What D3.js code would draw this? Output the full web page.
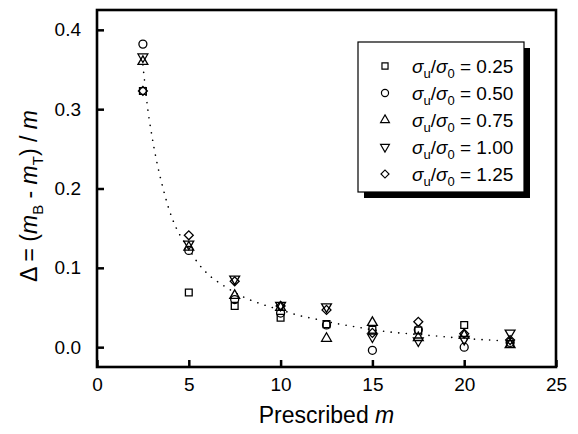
<!DOCTYPE html>
<html><head><meta charset="utf-8">
<script src="https://cdn.jsdelivr.net/npm/d3@7"></script>
<style>
html,body{margin:0;padding:0;background:#fff;}
svg{display:block;font-family:"Liberation Sans",Arial,sans-serif;}
</style></head>
<body><svg id="c" width="578" height="434"></svg>
<script>
// ---- data ----
const mValues = [2.5, 5, 7.5, 10, 12.5, 15, 17.5, 20, 22.5];
const ratioLabels = ["0.25", "0.50", "0.75", "1.00", "1.25"];
const s025 = [0.323, 0.069, 0.052, 0.037, 0.029, 0.022, 0.021, 0.028, 0.004];
const s050 = [0.382, 0.122, 0.060, 0.043, 0.028, -0.004, 0.022, 0.000, 0.006];
const s075 = [0.360, 0.126, 0.065, 0.050, 0.011, 0.031, 0.012, 0.015, 0.003];
const s100 = [0.366, 0.130, 0.086, 0.053, 0.051, 0.013, 0.008, 0.010, 0.018];
const s125 = [0.323, 0.141, 0.083, 0.052, 0.047, 0.018, 0.032, 0.017, 0.009];
// dotted fitted curve
const curveM = [2.5, 2.7, 3.0, 3.2, 3.6, 4.1, 4.5, 5, 5.5, 6, 7, 8, 9, 10, 11, 12, 13, 14, 15, 16, 17, 18, 19, 20, 21, 22.2];
const curveD = [0.356, 0.312, 0.265, 0.240, 0.200, 0.162, 0.142, 0.124, 0.106, 0.093, 0.076, 0.063, 0.054, 0.047, 0.040, 0.035, 0.030, 0.026, 0.022, 0.019, 0.017, 0.015, 0.013, 0.011, 0.0095, 0.008];
const xTicks = [0, 5, 10, 15, 20, 25];
const yTicks = [0.0, 0.1, 0.2, 0.3, 0.4];

const series = [s025, s050, s075, s100, s125];

const svg = d3.select("#c");
const L = 97, R = 556, T = 10, B = 367;
const x = d3.scaleLinear().domain([0, 25]).range([L, R]);
const y = d3.scaleLinear().domain([-0.025, 0.425]).range([B, T]);

// symbols
const symDefs = [
  {type: d3.symbolSquare, size: 46, rot: 0},
  {type: d3.symbolCircle, size: 50, rot: 0},
  {type: d3.symbolTriangle, size: 42, rot: 0},
  {type: d3.symbolTriangle, size: 42, rot: 180},
  {type: d3.symbolSquare, size: 40, rot: 45}
];

// curve
svg.append("path")
  .datum(curveM.map((m, i) => [m, curveD[i]]))
  .attr("fill", "none").attr("stroke", "#000")
  .attr("stroke-width", 1.6).attr("stroke-linecap", "round")
  .attr("stroke-dasharray", "0.1,7.5")
  .attr("d", d3.line().x(d => x(d[0])).y(d => y(d[1])).curve(d3.curveMonotoneX));

// points
series.forEach((s, si) => {
  const def = symDefs[si];
  const gen = d3.symbol().type(def.type).size(def.size);
  svg.append("g").selectAll("path").data(s).join("path")
    .attr("d", gen)
    .attr("transform", (d, i) => `translate(${x(mValues[i])},${y(d)}) rotate(${def.rot})`)
    .attr("fill", "none").attr("stroke", "#000").attr("stroke-width", 1.3);
});

// axes
const xAxis = d3.axisBottom(x).tickValues(xTicks).tickFormat(d3.format("d"))
  .tickSizeInner(-7).tickSizeOuter(0).tickPadding(11);
const gx = svg.append("g").attr("transform", `translate(0,${B})`).call(xAxis);
const yAxis = d3.axisLeft(y).tickValues(yTicks).tickFormat(d3.format(".1f"))
  .tickSizeInner(-7).tickSizeOuter(0).tickPadding(16);
const gy = svg.append("g").attr("transform", `translate(${L},0)`).call(yAxis);
[gx, gy].forEach(g => {
  g.select(".domain").remove();
  g.selectAll(".tick line").attr("stroke", "#000").attr("stroke-width", 2.5);
  g.selectAll(".tick text").attr("fill", "#000").style("font-size", "19px")
    .style("font-family", '"Liberation Sans",Arial,sans-serif');
});

// frame
svg.append("rect").attr("x", L).attr("y", T).attr("width", R - L).attr("height", B - T)
  .attr("fill", "none").attr("stroke", "#000").attr("stroke-width", 2.6);

// axis titles
const xt = svg.append("text").attr("x", (L + R) / 2).attr("y", 423)
  .attr("text-anchor", "middle").style("font-size", "23px").attr("fill", "#000");
xt.append("tspan").text("Prescribed ");
xt.append("tspan").style("font-style", "italic").text("m");

const yt = svg.append("text").attr("transform", "translate(37,196) rotate(-90)")
  .attr("text-anchor", "middle").style("font-size", "23px").attr("fill", "#000");
yt.append("tspan").text("\u0394 = (");
yt.append("tspan").style("font-style", "italic").text("m");
yt.append("tspan").attr("dy", 6).style("font-size", "15px").text("B");
yt.append("tspan").attr("dy", -6).text(" - ");
yt.append("tspan").style("font-style", "italic").text("m");
yt.append("tspan").attr("dy", 6).style("font-size", "15px").text("T");
yt.append("tspan").attr("dy", -6).text(") / ");
yt.append("tspan").style("font-style", "italic").text("m");

// legend
const lg = svg.append("g");
const lx = 358, ly = 42, lw = 166, lh = 150;
lg.append("rect").attr("x", lx + 6).attr("y", ly + 6).attr("width", lw).attr("height", lh).attr("fill", "#000");
lg.append("rect").attr("x", lx).attr("y", ly).attr("width", lw).attr("height", lh)
  .attr("fill", "#fff").attr("stroke", "#000").attr("stroke-width", 1.2);
ratioLabels.forEach((lab, i) => {
  const cy = 66 + i * 27;
  const def = symDefs[i];
  lg.append("path").attr("d", d3.symbol().type(def.type).size(def.size * 0.8)())
    .attr("transform", `translate(385,${cy}) rotate(${def.rot})`)
    .attr("fill", "none").attr("stroke", "#000").attr("stroke-width", 1.2);
  const t = lg.append("text").attr("x", 412).attr("y", cy + 7).style("font-size", "19px").attr("fill", "#000");
  t.append("tspan").style("font-style", "italic").text("\u03C3");
  t.append("tspan").attr("dy", 5).style("font-size", "13px").text("u");
  t.append("tspan").attr("dy", -5).text("/");
  t.append("tspan").style("font-style", "italic").text("\u03C3");
  t.append("tspan").attr("dy", 5).style("font-size", "13px").text("0");
  t.append("tspan").attr("dy", -5).text(" = " + lab);
});
</script></body></html>
